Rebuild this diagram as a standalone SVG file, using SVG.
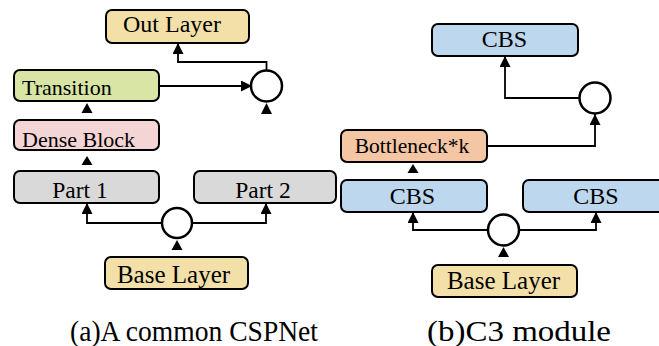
<svg xmlns="http://www.w3.org/2000/svg" width="659" height="346" viewBox="0 0 659 346">
<style>
.box{stroke:#000;stroke-width:2}
.lbl{font-family:"Liberation Serif","Times New Roman",serif;fill:#000}
.cap{font-family:"Liberation Serif","Times New Roman",serif;font-size:29px;fill:#000}
.c{fill:#fff;stroke:#000;stroke-width:2.5}
.ln{fill:none;stroke:#000;stroke-width:1.8}
.tri{fill:#000}
.tan{fill:#f3e0a9}
.green{fill:#d8e5a4}
.pink{fill:#f3d5d6}
.gray{fill:#d9d9d9}
.blue{fill:#bdd7ee}
.peach{fill:#f4c6a4}
</style>
<defs>
<marker id="ah" viewBox="0 0 10 10" refX="10" refY="5" markerWidth="11" markerHeight="11" markerUnits="userSpaceOnUse" orient="auto">
<path d="M0,0 L10,5 L0,10 z" fill="#000"/>
</marker>
</defs>
<rect width="659" height="346" fill="#fff"/>
<g id="connectors">
<path class="ln" d="M159,86 H252" marker-end="url(#ah)"/>
<path class="ln" d="M266.5,70.5 V62 H178 V43" marker-end="url(#ah)"/>
<polygon class="tri" points="261,114 272,114 266.5,103"/>
<polygon class="tri" points="81.5,113 92.5,113 87,103"/>
<polygon class="tri" points="81.5,165 92.5,165 87,156"/>
<path class="ln" d="M162,223 H87 V203" marker-end="url(#ah)"/>
<path class="ln" d="M192,223 H266 V203" marker-end="url(#ah)"/>
<polygon class="tri" points="171.5,250 182.5,250 177,240"/>
<path class="ln" d="M579,98 H505 V56" marker-end="url(#ah)"/>
<path class="ln" d="M487,146 H595 V114" marker-end="url(#ah)"/>
<polygon class="tri" points="407.5,173 418.5,173 413,164"/>
<path class="ln" d="M488,230 H413 V212" marker-end="url(#ah)"/>
<path class="ln" d="M519,230 H596 V212" marker-end="url(#ah)"/>
<polygon class="tri" points="498,257 509,257 503.5,247"/>
</g>
<g id="out-layer"><rect class="box tan" x="106" y="10" width="143" height="33" rx="6"/><text class="lbl" x="172" y="32" font-size="24" text-anchor="middle">Out Layer</text></g>
<g id="transition"><rect class="box green" x="14" y="70" width="145" height="31" rx="6"/><text class="lbl" x="22" y="95" font-size="22">Transition</text></g>
<g id="dense-block"><rect class="box pink" x="14" y="120" width="145" height="30" rx="6"/><text class="lbl" x="22" y="147" font-size="22">Dense Block</text></g>
<g id="merge-a"><circle class="c" cx="266.5" cy="86" r="15.5"/></g>
<g id="part-1"><rect class="box gray" x="14" y="171" width="145" height="32" rx="6"/><text class="lbl" x="80" y="198" font-size="23.5" text-anchor="middle">Part 1</text></g>
<g id="part-2"><rect class="box gray" x="194" y="171" width="142" height="32" rx="6"/><text class="lbl" x="263" y="198" font-size="23.5" text-anchor="middle">Part 2</text></g>
<g id="split-a"><circle class="c" cx="177" cy="223" r="15"/></g>
<g id="base-layer-a"><rect class="box tan" x="105" y="257" width="143" height="32" rx="6"/><text class="lbl" x="173.5" y="283" font-size="25" text-anchor="middle">Base Layer</text></g>
<g id="cbs-top"><rect class="box blue" x="432" y="24" width="146" height="32" rx="6"/><text class="lbl" x="504.5" y="47" font-size="24" text-anchor="middle">CBS</text></g>
<g id="merge-b"><circle class="c" cx="595" cy="98" r="15.5"/></g>
<g id="bottleneck"><rect class="box peach" x="341" y="130" width="146" height="32" rx="6"/><text class="lbl" x="412" y="153" font-size="21.5" text-anchor="middle">Bottleneck*k</text></g>
<g id="cbs-left"><rect class="box blue" x="341" y="180" width="146" height="32" rx="6"/><text class="lbl" x="412.5" y="204" font-size="24" text-anchor="middle">CBS</text></g>
<g id="cbs-right"><rect class="box blue" x="523" y="180" width="146" height="32" rx="6"/><text class="lbl" x="596" y="204" font-size="24" text-anchor="middle">CBS</text></g>
<g id="split-b"><circle class="c" cx="503.5" cy="230" r="15.5"/></g>
<g id="base-layer-b"><rect class="box tan" x="432" y="265" width="145" height="32" rx="6"/><text class="lbl" x="503.5" y="289" font-size="25" text-anchor="middle">Base Layer</text></g>
<text class="cap" x="70" y="341" textLength="248" lengthAdjust="spacingAndGlyphs">(a)A common CSPNet</text>
<text class="cap" x="427" y="341" textLength="184" lengthAdjust="spacingAndGlyphs">(b)C3 module</text>
</svg>
